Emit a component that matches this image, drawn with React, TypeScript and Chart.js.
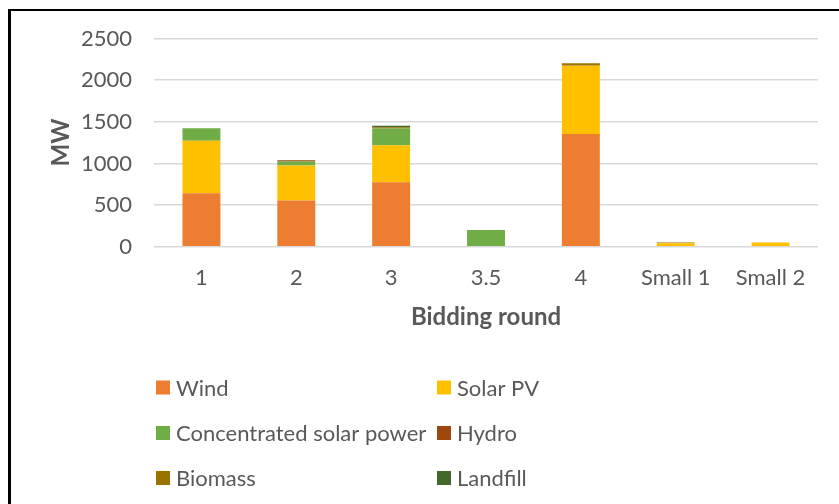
import React, { useEffect, useRef } from 'react';
import { Chart, registerables } from 'chart.js';

Chart.register(...registerables);

const categories = ['1', '2', '3', '3.5', '4', 'Small 1', 'Small 2'];
const wind = [642, 554, 775, 0, 1353, 0, 0];
const solarPV = [631, 422, 442, 0, 819, 40, 50];
const csp = [149, 48, 201, 200, 0, 0, 0];
const hydro = [0, 14, 0, 0, 5, 0, 0];
const biomass = [0, 0, 16, 0, 25, 10, 0];
const landfill = [0, 0, 18, 0, 0, 0, 0];

const seriesNames = ['Wind', 'Solar PV', 'Concentrated solar power', 'Hydro', 'Biomass', 'Landfill'];
const seriesColors = ['#ED7D31', '#FFC000', '#70AD47', '#9E480E', '#997300', '#43682B'];

const FONT = 'Lato, "Open Sans", sans-serif';
const TEXT = '#595959';

const gridLegend = {
  id: 'gridLegend',
  afterDraw(chart: any) {
    const ctx = chart.ctx;
    const cols = [156, 437];
    const rows = [387.5, 433, 478];
    ctx.save();
    ctx.font = `22px ${FONT}`;
    ctx.textBaseline = 'middle';
    ctx.textAlign = 'left';
    chart.data.datasets.forEach((ds: any, i: number) => {
      const x = cols[i % 2];
      const y = rows[Math.floor(i / 2)];
      ctx.fillStyle = ds.backgroundColor;
      ctx.fillRect(x, y - 7, 14, 14);
      ctx.fillStyle = TEXT;
      ctx.fillText(ds.label, x + 20, y + 1);
    });
    ctx.restore();
  },
};

export default function App() {
  const ref = useRef<HTMLCanvasElement>(null);

  useEffect(() => {
    if (!ref.current) return;
    const values = [wind, solarPV, csp, hydro, biomass, landfill];
    const chart = new Chart(ref.current, {
      type: 'bar',
      data: {
        labels: categories,
        datasets: values.map((v, i) => ({
          label: seriesNames[i],
          data: v,
          backgroundColor: seriesColors[i],
          borderWidth: 0,
          barPercentage: 1,
          categoryPercentage: 0.4,
        })),
      },
      options: {
        responsive: false,
        animation: false,
        maintainAspectRatio: false,
        layout: { padding: { left: 0, right: 21, top: 38.5, bottom: 172.6 } },
        plugins: {
          legend: { display: false },
          tooltip: { enabled: false },
        },
        scales: {
          x: {
            stacked: true,
            grid: { display: false, drawTicks: false },
            border: { display: false },
            ticks: { color: TEXT, font: { family: FONT, size: 22 }, padding: 18.5 },
            title: {
              display: true,
              text: 'Bidding round',
              color: TEXT,
              font: { family: FONT, size: 24, weight: 'bold' },
              padding: { top: 11, bottom: 0 },
            },
            afterFit: (s: any) => {
              s.height -= 18.5;
            },
          },
          y: {
            stacked: true,
            min: 0,
            max: 2500,
            ticks: {
              stepSize: 500,
              color: TEXT,
              font: { family: FONT, size: 22 },
              padding: 22,
              callback: (v: any) => String(v),
            },
            grid: { color: '#D9D9D9', lineWidth: 1.5, drawTicks: false },
            border: { display: false },
            title: {
              display: true,
              text: 'MW',
              color: TEXT,
              font: { family: FONT, size: 24, weight: 'bold' },
              padding: { top: 47, bottom: 0 },
            },
            afterFit: (s: any) => {
              s.width = 154;
            },
          },
        },
      },
      plugins: [gridLegend],
    });
    return () => chart.destroy();
  }, []);

  return (
    <div style={{ position: 'absolute', left: 0, top: 0, width: 839, height: 504, overflow: 'hidden', background: '#fff' }}>
      <canvas ref={ref} width={839} height={504} style={{ position: 'absolute', left: 0, top: 0 }} />
      <div
        style={{
          position: 'absolute',
          left: 8,
          top: 9,
          width: 1000,
          height: 1000,
          borderTop: '2px solid #000',
          borderLeft: '3px solid #000',
          pointerEvents: 'none',
        }}
      />
    </div>
  );
}
